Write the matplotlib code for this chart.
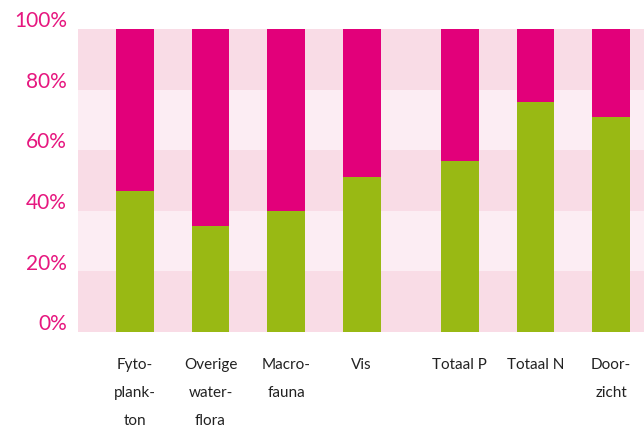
import numpy as np
import matplotlib.pyplot as plt
import matplotlib.transforms as mtransforms

categories = ["Fyto-\nplank-\nton", "Overige\nwater-\nflora", "Macro-\nfauna", "Vis",
              "Totaal P", "Totaal N", "Door-\nzicht"]
green_share = [46.5, 35, 40, 51, 56.5, 76, 71]
yticks = [0, 20, 40, 60, 80, 100]

pos = np.array([0, 1, 2, 3, 4.3, 5.3, 6.3])
green = np.array(green_share) / 100
pink = 1 - green

fig = plt.figure(figsize=(6.44, 4.28), dpi=100)
ax = fig.add_axes([78/644, 96/428, 566/644, 303/428])

# striped background
for i in range(5):
    c = "#f9dce6" if i % 2 == 0 else "#fcedf3"
    ax.axhspan(i*0.2, (i+1)*0.2, color=c, lw=0, zorder=0)

ax.bar(pos, green, width=0.5, color="#99b914", zorder=2)
ax.bar(pos, pink, width=0.5, bottom=green, color="#e2007a", zorder=2)

ax.set_xlim(-0.753, 6.736)
ax.set_ylim(0, 1)
for s in ax.spines.values():
    s.set_visible(False)

ax.set_yticks([t/100 for t in yticks])
ax.set_yticklabels([f"{t}%" for t in yticks], fontsize=15, color="#e6177f", family="Lato")
ax.tick_params(axis="y", length=0, pad=8)
off = mtransforms.ScaledTranslation(0, 7/72, fig.dpi_scale_trans)
for lab in ax.get_yticklabels():
    lab.set_transform(lab.get_transform() + off)

ax.set_xticks(pos)
ax.set_xticklabels(categories, fontsize=11, color="#222222", family="Lato",
                   linespacing=2.25, va="top")
ax.tick_params(axis="x", length=0, pad=19)

fig.savefig("out.png", dpi=100)
